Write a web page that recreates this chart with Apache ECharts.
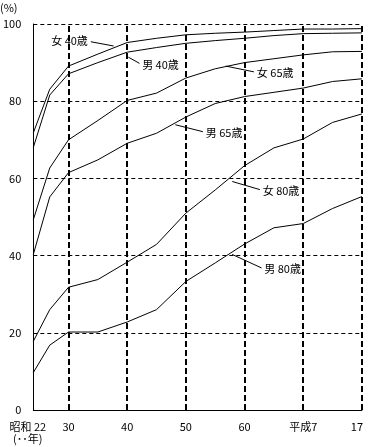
<!DOCTYPE html>
<html>
<head>
<meta charset="utf-8">
<script src="https://cdn.jsdelivr.net/npm/echarts@6/dist/echarts.min.js"></script>
<style>
  html, body { margin: 0; padding: 0; background: #fff; }
  #chart { width: 376px; height: 447px; }
</style>
</head>
<body>
<div id="chart"></div>
<script>
// x positions in 昭和 years, as plotted (first two tables squeezed in at the left edge)
const xPos = [24, 26.8, 30, 35, 40, 45, 50, 55, 60, 65, 70, 75, 80];
const tickValues = [24, 30, 40, 50, 60, 70, 80];
const tickLabels = ['昭和 22', '30', '40', '50', '60', '平成7', '17'];
const yTicks = [0, 20, 40, 60, 80, 100];

// survival rate (%)
const female40 = [71.8, 83.1, 89.1, 92.2, 95.2, 96.3, 97.2, 97.6, 97.9, 98.3, 98.7, 98.7, 98.8];
const male40 = [68.0, 81.6, 87.1, 90.0, 92.7, 93.9, 95.0, 95.7, 96.3, 97.0, 97.5, 97.6, 97.7];
const female65 = [49.3, 62.7, 70.0, 75.0, 80.2, 82.1, 86.0, 88.4, 90.0, 91.0, 92.0, 92.8, 92.9];
const male65 = [40.3, 55.2, 61.5, 64.8, 69.1, 71.7, 75.9, 79.4, 81.2, 82.3, 83.4, 85.1, 85.8];
const female80 = [17.8, 26.0, 31.8, 33.8, 38.3, 42.9, 51.0, 57.0, 63.3, 67.9, 70.2, 74.5, 76.7];
const male80 = [9.7, 16.8, 20.2, 20.2, 22.8, 26.0, 33.3, 38.1, 43.0, 47.2, 48.3, 52.2, 55.3];

const FONT = '"Noto Sans CJK JP", sans-serif';

const chart = echarts.init(document.getElementById('chart'));

function pairs(vals) {
  return vals.map((v, i) => [xPos[i], v]);
}

// leader line from the curve to its label
function leader(name, from, to) {
  return {
    silent: true,
    symbol: ['none', 'none'],
    animation: false,
    lineStyle: { color: '#000', width: 1, type: 'solid' },
    label: {
      show: true,
      position: 'end',
      distance: 3,
      formatter: name,
      color: '#000',
      fontFamily: FONT,
      fontSize: 11
    },
    emphasis: { disabled: true },
    data: [[{ coord: from }, { coord: to }]]
  };
}

function line(name, vals, ml) {
  return {
    name: name,
    type: 'line',
    data: pairs(vals),
    showSymbol: false,
    symbol: 'none',
    lineStyle: { color: '#000', width: 1 },
    itemStyle: { color: '#000' },
    silent: true,
    z: 3,
    markLine: ml
  };
}

const series = [
  line('女40歳', female40, leader('女 40歳', [37.7, 94.3], [33.8, 95.4])),
  line('男40歳', male40, leader('男 40歳', [40.2, 91.4], [42.1, 89.8])),
  line('女65歳', female65, leader('女 65歳', [56.8, 89.1], [61.6, 87.6])),
  line('男65歳', male65, leader('男 65歳', [48.2, 73.9], [52.9, 72.1])),
  line('女80歳', female80, leader('女 80歳', [57.9, 59.2], [62.6, 57.1])),
  line('男80歳', male80, leader('男 80歳', [57.9, 40.3], [62.9, 36.8]))
];

// thick dashed vertical lines at every 10 years
series.push({
  type: 'line',
  data: [],
  silent: true,
  z: 1,
  markLine: {
    silent: true,
    symbol: ['none', 'none'],
    animation: false,
    label: { show: false },
    lineStyle: { color: '#000', width: 2, type: [6, 3] },
    emphasis: { disabled: true },
    data: tickValues.slice(1).map(v => ({ xAxis: v }))
  }
});

chart.setOption({
  animation: false,
  grid: { left: 33, right: 8, top: 24, bottom: 37 },
  xAxis: {
    type: 'value',
    min: xPos[0],
    max: 80,
    axisLine: { show: true, lineStyle: { color: '#000', width: 1 } },
    axisTick: { show: false },
    splitLine: { show: false },
    axisLabel: {
      customValues: tickValues,
      showMinLabel: true,
      showMaxLabel: true,
      alignMinLabel: 'center',
      alignMaxLabel: 'center',
      margin: 11,
      color: '#000',
      fontFamily: FONT,
      fontSize: 11,
      lineHeight: 12,
      formatter: (v) => {
        const i = tickValues.indexOf(v);
        if (i === 0) return '{a|' + tickLabels[0] + '}\n{a|(･･年)}';
        if (i === tickValues.length - 1) return '{b|' + tickLabels[i] + '}';
        return i >= 0 ? tickLabels[i] : '';
      },
      rich: {
        a: { fontFamily: FONT, fontSize: 11, lineHeight: 12, color: '#000', padding: [0, 11, 0, 0] },
        b: { fontFamily: FONT, fontSize: 11, color: '#000', padding: [0, 10, 0, 0] }
      }
    }
  },
  yAxis: {
    type: 'value',
    min: yTicks[0],
    max: yTicks[yTicks.length - 1],
    interval: 20,
    axisLine: { show: true, lineStyle: { color: '#000', width: 1 } },
    axisTick: { show: false },
    axisLabel: {
      margin: 12,
      color: '#000',
      fontFamily: FONT,
      fontSize: 11
    },
    splitLine: { show: true, lineStyle: { color: '#000', width: 1, type: [4, 3] } }
  },
  graphic: [{
    type: 'text',
    x: 0,
    y: 2,
    style: {
      text: '(%)',
      fill: '#000',
      font: '11px ' + FONT,
      align: 'left',
      verticalAlign: 'top'
    }
  }],
  series: series
});
</script>
</body>
</html>
